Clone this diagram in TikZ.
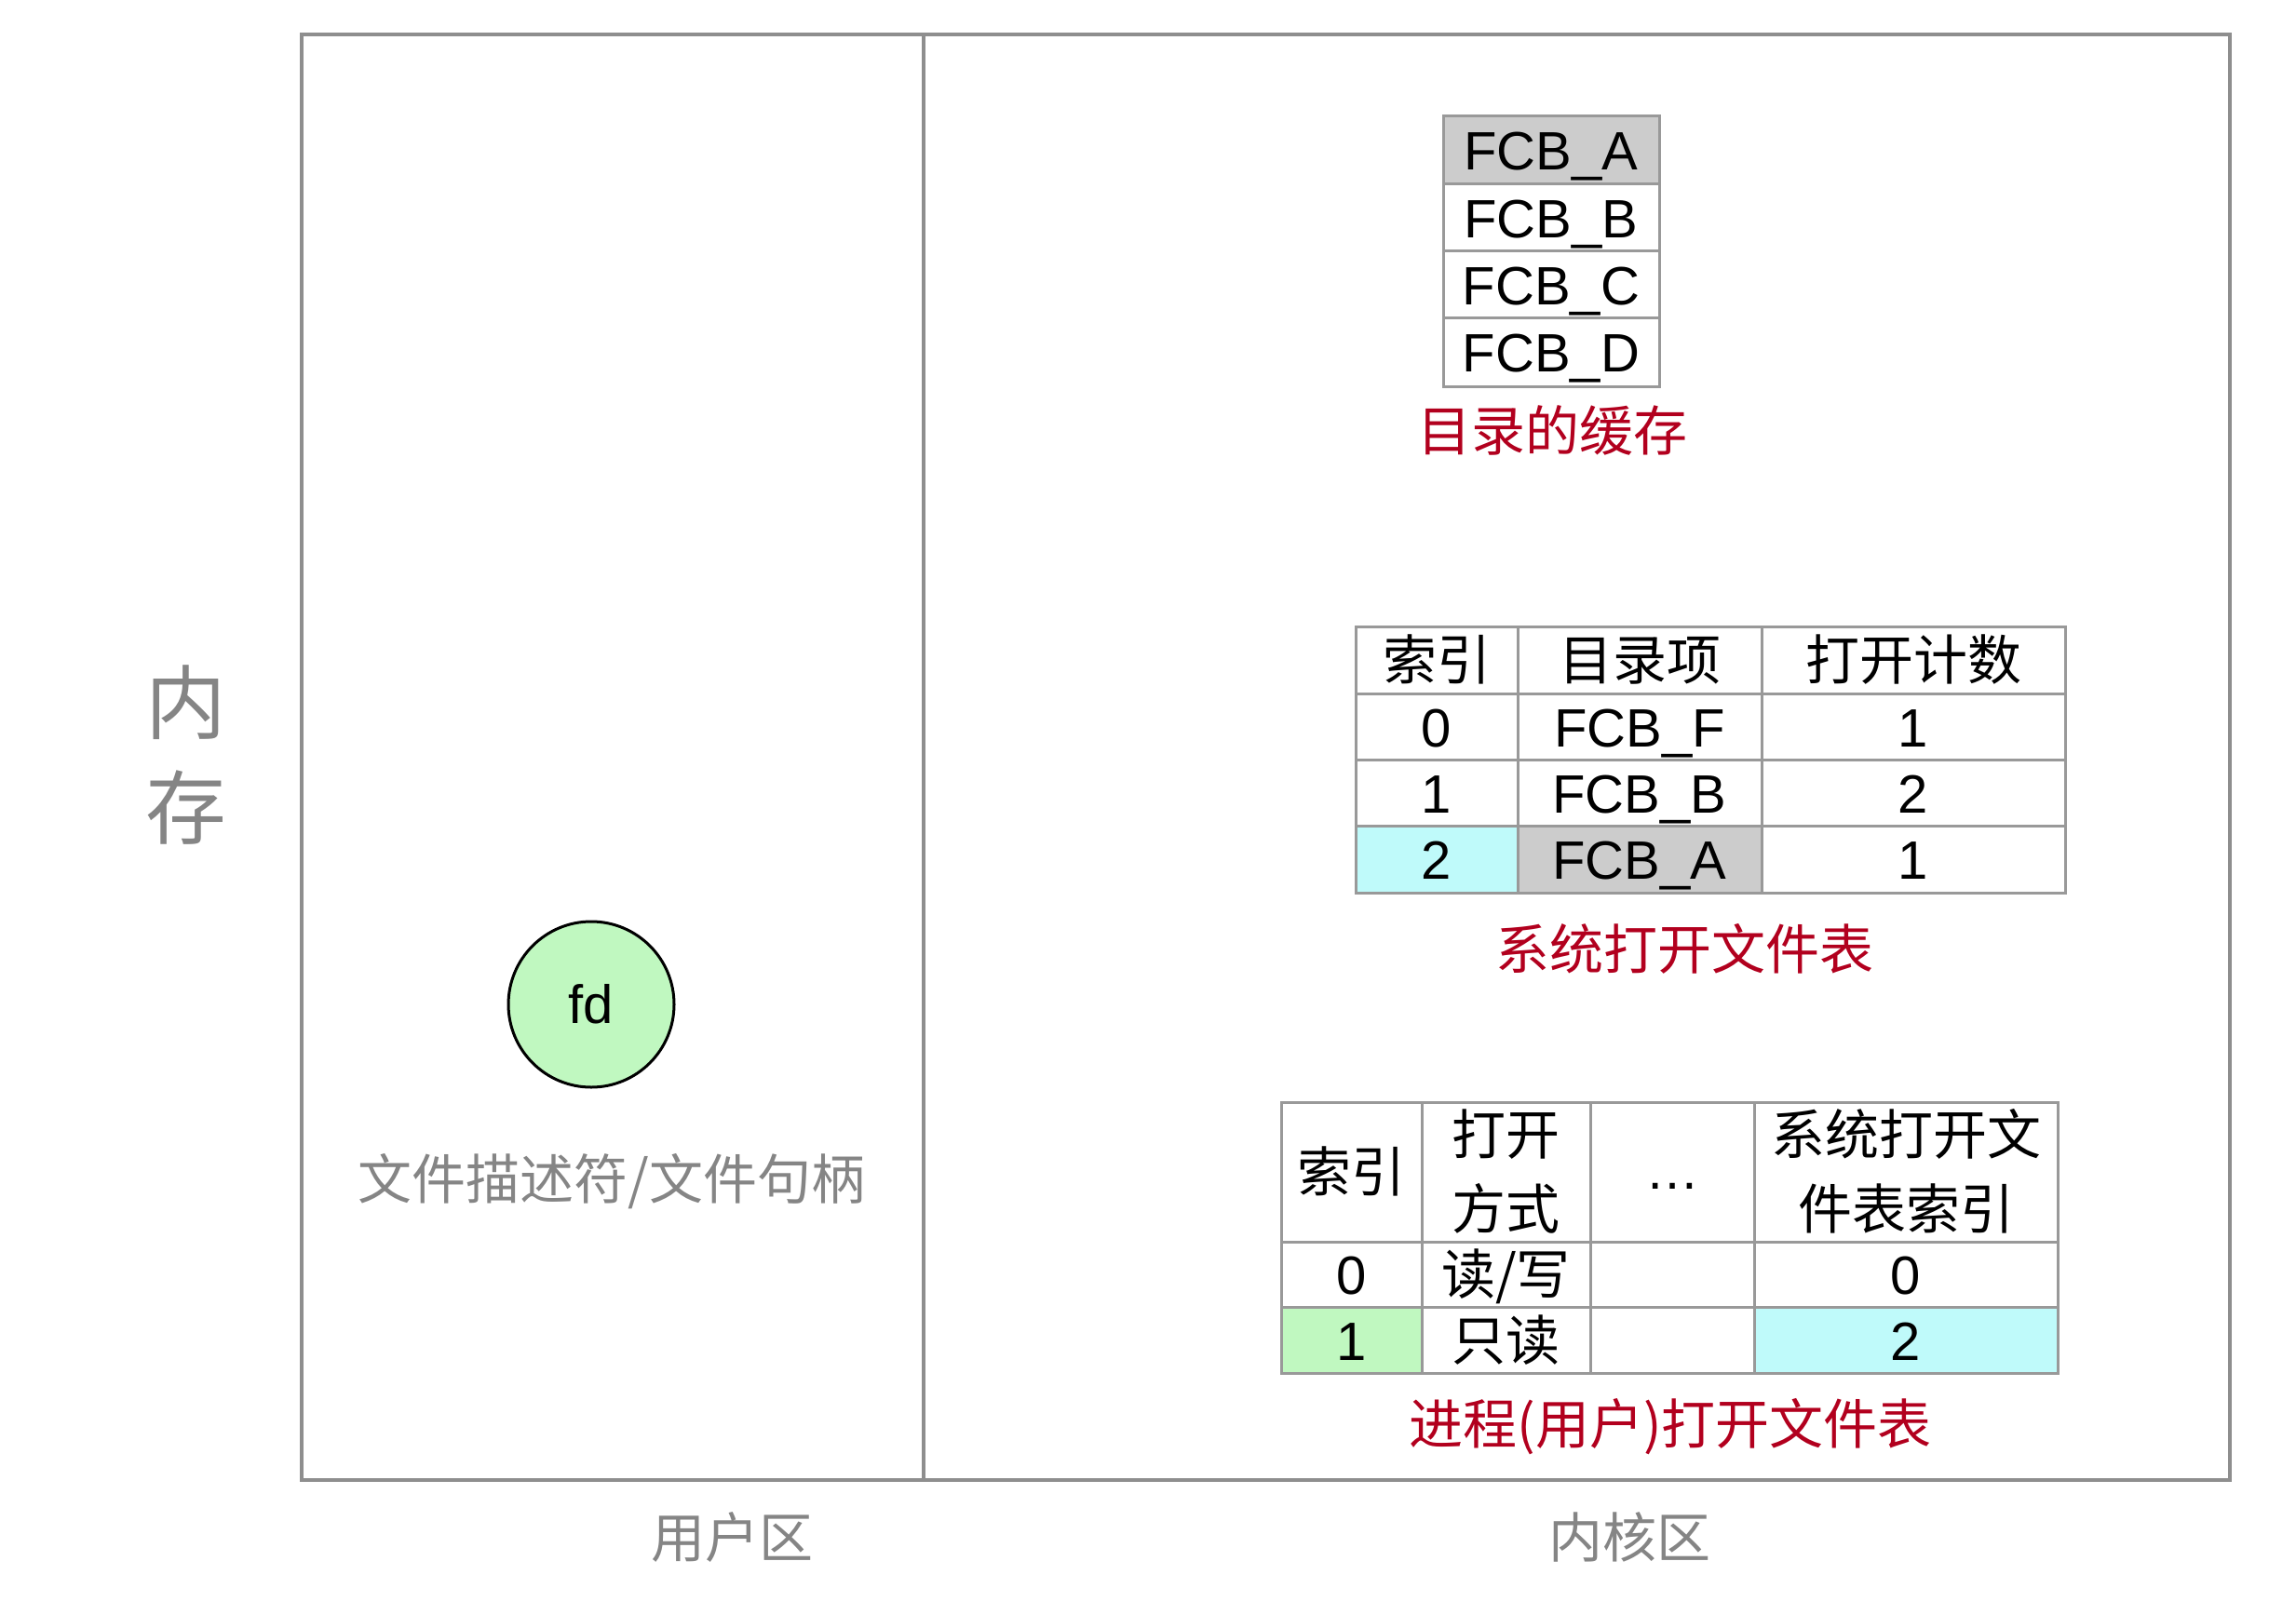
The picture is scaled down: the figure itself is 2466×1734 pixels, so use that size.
\documentclass[tikz,border=0pt]{standalone}
\usepackage{fontspec}
\setmainfont{Liberation Sans}
\newfontfamily\cjk{Noto Sans CJK SC}
\usetikzlibrary{fit}
\definecolor{boxgray}{HTML}{8E8E8E}
\definecolor{cellgray}{HTML}{999999}
\definecolor{txtgray}{HTML}{858585}
\definecolor{capred}{HTML}{B2001E}
\definecolor{fcbgray}{HTML}{CCCCCC}
\definecolor{hicyan}{HTML}{BFFAFA}
\definecolor{higreen}{HTML}{C0F8C0}
\newcommand\zhtxt[1]{{\cjk #1}}
\newcommand\tcell[7]{%
  \pgfmathsetmacro\cellw{(#4-#2)*0.3}%
  \pgfmathsetmacro\cellh{(#5-#3)*0.3}%
  \pgfmathsetmacro\cellx{(#2+#4)/2}%
  \pgfmathsetmacro\celly{(#3+#5)/2}%
  \node[cell, fill=#6, minimum width=\cellw pt, minimum height=\cellh pt] (#1) at (\cellx,\celly) {#7};}
\begin{document}
\begin{tikzpicture}[x=0.3pt,y=-0.3pt,
  base/.style={font=\fontsize{17.4}{24}\selectfont, inner sep=0pt},
  cell/.style={base, draw=cellgray, line width=0.9pt, text height=16.4pt, text depth=3.5pt},
  captionred/.style={base, text=capred, font=\cjk\fontsize{17.4}{24}\selectfont},
  glabel/.style={base, text=txtgray, font=\cjk\fontsize{17.4}{24}\selectfont},
  biglabel/.style={base, text=txtgray, font=\cjk\fontsize{26}{30}\selectfont},
  frame/.style={draw=boxgray, line width=1.2pt, inner sep=0pt},
  lineitem/.style={base, text height=16.4pt, text depth=3.5pt}
]
\useasboundingbox[fill=white] (0,0) rectangle (2466,1734);

% frames
\node[frame, fit={(324,37) (992,1590)}] (user) {};
\node[frame, fit={(992,37) (2395,1590)}] (kernel) {};

% side and bottom labels
\node[biglabel] (mem1) at (200,755) {内};
\node[biglabel] (mem2) at (200,868) {存};
\node[glabel] (userlbl) at (786,1651) {用户区};
\node[glabel] (kernlbl) at (1750,1651) {内核区};

% fd
\node[base, circle, draw=black, line width=0.9pt, fill=higreen, minimum size=53.4pt] (fd) at (635,1079) {fd};
\node[glabel] (fdlbl) at (657,1269) {文件描述符/文件句柄};

% directory cache
\tcell{ca}{1550}{125}{1782}{198}{fcbgray}{FCB\_A}
\tcell{cb}{1550}{198}{1782}{270}{white}{FCB\_B}
\tcell{cc}{1550}{270}{1782}{342}{white}{FCB\_C}
\tcell{cd}{1550}{342}{1782}{415}{white}{FCB\_D}
\node[captionred] (cachelbl) at (1667,462) {目录的缓存};

% system open file table
\tcell{s00}{1456}{673}{1630}{745}{white}{\zhtxt{索引}}
\tcell{s01}{1630}{673}{1892}{745}{white}{\zhtxt{目录项}}
\tcell{s02}{1892}{673}{2218}{745}{white}{\zhtxt{打开计数}}
\tcell{s10}{1456}{745}{1630}{816}{white}{0}
\tcell{s11}{1630}{745}{1892}{816}{white}{FCB\_F}
\tcell{s12}{1892}{745}{2218}{816}{white}{1}
\tcell{s20}{1456}{816}{1630}{887}{white}{1}
\tcell{s21}{1630}{816}{1892}{887}{white}{FCB\_B}
\tcell{s22}{1892}{816}{2218}{887}{white}{2}
\tcell{s30}{1456}{887}{1630}{959}{hicyan}{2}
\tcell{s31}{1630}{887}{1892}{959}{fcbgray}{FCB\_A}
\tcell{s32}{1892}{887}{2218}{959}{white}{1}
\node[captionred] (syslbl) at (1809,1019) {系统打开文件表};

% process open file table
\tcell{p00}{1376}{1184}{1527}{1334}{white}{\zhtxt{索引}}
\tcell{p01}{1527}{1184}{1708}{1334}{white}{}
\tcell{p02}{1708}{1184}{1884}{1334}{white}{}
\tcell{p03}{1884}{1184}{2210}{1334}{white}{}
\node[lineitem] (p01a) at (1617,1219) {\zhtxt{打开}};
\node[lineitem] (p01b) at (1617,1299) {\zhtxt{方式}};
\node[lineitem] (p02a) at (1796,1256) {…};
\node[lineitem] (p03a) at (2047,1219) {\zhtxt{系统打开文}};
\node[lineitem] (p03b) at (2047,1299) {\zhtxt{件表索引}};
\tcell{p10}{1376}{1334}{1527}{1404}{white}{0}
\tcell{p11}{1527}{1334}{1708}{1404}{white}{\zhtxt{读/写}}
\tcell{p12}{1708}{1334}{1884}{1404}{white}{}
\tcell{p13}{1884}{1334}{2210}{1404}{white}{0}
\tcell{p20}{1376}{1404}{1527}{1475}{higreen}{1}
\tcell{p21}{1527}{1404}{1708}{1475}{white}{\zhtxt{只读}}
\tcell{p22}{1708}{1404}{1884}{1475}{white}{}
\tcell{p23}{1884}{1404}{2210}{1475}{hicyan}{2}
\node[captionred] (proclbl) at (1794,1533) {进程(用户)打开文件表};
\end{tikzpicture}
\end{document}
